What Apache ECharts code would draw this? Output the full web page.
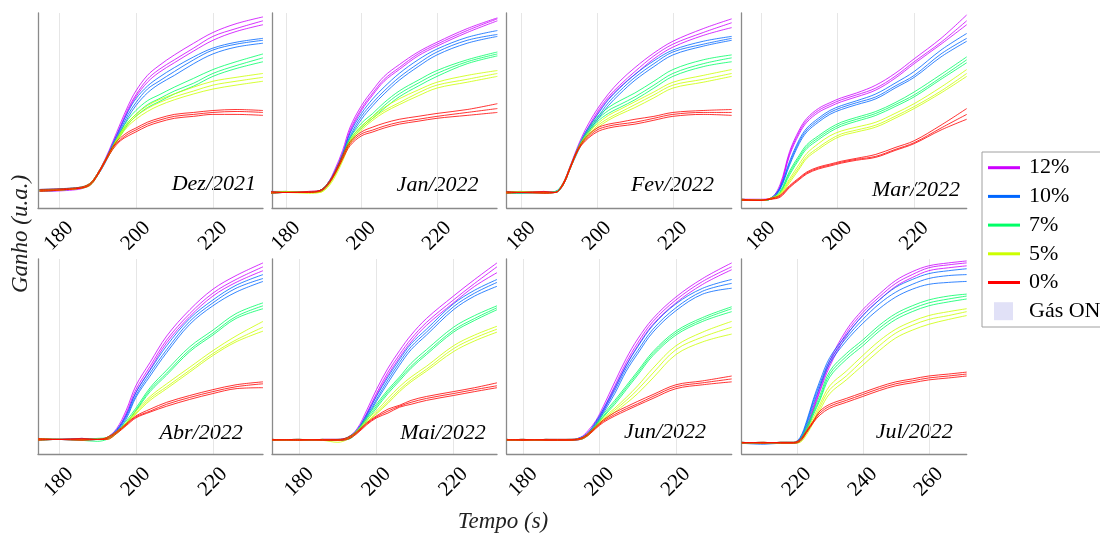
<!DOCTYPE html>
<html><head><meta charset="utf-8">
<script src="https://cdn.jsdelivr.net/npm/echarts/dist/echarts.min.js"></script>
<style>html,body{margin:0;padding:0;background:#fff}#c{width:1100px;height:535px}</style>
</head><body><div id="c"></div>
<script>
// ---------- DATA ----------
const concLabels = ['12%', '10%', '7%', '5%', '0%'];
const concColors = ['#cc00ff', '#0066ff', '#00ff66', '#ccff00', '#ff0000'];
const panelNames = ['Dez/2021', 'Jan/2022', 'Fev/2022', 'Mar/2022', 'Abr/2022', 'Mai/2022', 'Jun/2022', 'Jul/2022'];
const xRanges = [[174.6, 233], [176.3, 235.9], [176.2, 235.5], [175, 233.7], [174.6, 233], [172.9, 231.3], [175.7, 234.6], [203.3, 271.5]];
const tickStep = 20;

// Dez/2021
const dezX = [175,185,188,190,192,194,196,198,200,203,206,210,215,220,226,233];
const dez12 = [[9,10,12,17,24,33,42,51,58,66,71,76,82,88,92,96],
               [8.5,9.5,12,17.5,25,34,43.5,52.5,60,68,73,78.5,84.5,90,94.5,98],
               [9.5,10,12,16.5,23.5,32,41,50,57,64.5,69.5,74.5,80.5,86,90.5,94]];
const dez10 = [[9,10,12,17,24,32,40,48,54,61,65,70,76,81,84,86],
               [8.5,10,12.5,17.5,24.5,33,41.5,49.5,56,62.5,67,72,77.5,82,85,87],
               [9.5,10.5,12,16.5,23,31,39,46.5,52.5,59,63.5,68,74,79,82.5,84.5]];
const dez7  = [[9,10,12,17,24,31,38,44,48,53,56,60,64,69,73,77],
               [9,10.5,12.5,17.5,24.5,32,39,45.5,50,55,58,62,66.5,71,75,79],
               [9.5,10,11.5,16.5,23.5,30.5,37,43,47,51.5,54.5,58.5,62.5,67.5,71.5,75]];
const dez5  = [[9,10,12,17,24,31,38,43,47,51,54,57,60,63,65,67],
               [9,10,12.5,17.5,24.5,31.5,38.5,44,48,52.5,55.5,58.5,62,65,67,69],
               [8.5,10,11.5,16.5,23.5,30.5,37,42,45.5,49.5,52.5,55.5,58.5,61,63,65]];
const dez0  = [[9,10,12,17,24,31,35,38,40,43,45,47,48,49,49.5,49],
               [9.5,10.5,12.5,17.5,24.5,31.5,36,39,41,44,46,48,49,50,50.5,50],
               [8.5,10,11.5,16.5,23.5,30,34.5,37,39,42,44,46,47,48,48,47.5]];

// Jan/2022
const janX = [176,180,186,189,191,193,195,197,200,203,206,210,215,220,228,236];
const jan12 = [[8,8,8,9,12,19,28,40,51,59,66,72,79,84,91,97],
               [8.5,8,8.5,9,12.5,20,29.5,41.5,52.5,60.5,67.5,73.5,80,85,92,97.5],
               [7.5,8,8,8.5,11.5,18.5,27,39,50,58,65,71,78,83,90,96]];
const jan10 = [[8,8,8,9,12,18,27,37,47,54,60,67,74,80,86,89],
               [8.5,8.5,8,9,12.5,19,28,38.5,48.5,56,62,69,76,81.5,87.5,91],
               [7.5,8,8,8.5,11.5,17.5,26,36,45.5,52.5,58.5,65.5,72.5,78.5,84.5,88]];
const jan7  = [[8,8,8,9,12,18,26,35,42,47,52.5,58.5,64,69,75,79],
               [8,8.5,8,9,12.5,18.5,27,36,43.5,48.5,54,60,65.5,70.5,76,80],
               [7.5,8,8,8.5,11.5,17.5,25.5,34,41,46,51,57,62.5,67.5,74,78]];
const jan5  = [[8,8,8,8,11,17,25,34,41,46,50,54,59,63,66,69],
               [8,8.5,8,8.5,11.5,17.5,25.5,35,42,47,51.5,56,60.5,64.5,68,70.5],
               [7.5,8,7.5,8,10.5,16,24,33,40,45,49,53,57.5,61.5,64.5,67.5]];
const jan0  = [[8,8,8,9,12,18,26,33,38,40,42,44,45.5,47,49,51],
               [8.5,8,8.5,9,12.5,18.5,27,34,39,41.5,43.5,45.5,47,48.5,50.5,53.5],
               [7.5,8,8,8.5,11.5,17.5,25,32,37,39,41,43,44.5,46,47.5,49]];

// Fev/2022
const fevX = [176,180,186,189,191,193,195,197,200,203,206,210,215,220,228,235.5];
const fev12 = [[8,8,8,8,12,21,31,39,49,57,63,70,78,84,90,95],
               [8.5,8,8.5,8,12.5,22,32,40.5,50.5,58.5,65,72,79.5,85.5,92,97],
               [7.5,7.5,8,8,11.5,20.5,30,38,48,56,62,68.5,76.5,82.5,88.5,92.5]];
const fev10 = [[8,8,8,8,12,21,30,38,46,54,60,67,74,80,84,87],
               [8,8.5,8,8.5,12.5,21.5,31,39,47.5,55.5,61.5,68.5,75.5,81,85.5,88],
               [7.5,8,7.5,8,11.5,20.5,29,37,45,52.5,58.5,65.5,72.5,78.5,83,86]];
const fev7  = [[8,8,8,8,12,21,30,37,45,50,53,57,63,69,74,77],
               [8.5,8,8,8.5,12.5,21.5,31,38,46.5,51.5,55,59,65,71,76,78.5],
               [7.5,7.5,8,8,11.5,20.5,29.5,36,44,48.5,51.5,55.5,61.5,67.5,72.5,75]];
const fev5  = [[8,8,8,8,12,21,30,36,42,46,49,53,58,63,66,69],
               [8,8.5,8,8,12.5,21.5,30.5,37,43,47.5,50.5,54.5,59.5,64.5,68,71],
               [7.5,8,7.5,8,11.5,20.5,29.5,35.5,41,45,48,51.5,56.5,61.5,64.5,67.5]];
const fev0  = [[8,8,8,8,12,21,30,35,40,42,43,44,46,48,49,49],
               [8.5,8,8.5,8,12.5,21.5,30.5,36,41,43,44,45.5,47,49,50,50.5],
               [7.5,8,7.5,8,11.5,20.5,29.5,34.5,39,41,42,43,45,47,48,47.5]];

// Mar/2022
const marX = [175,180,182.5,185,187.5,190,192,195,198,201,205,210,215,220,227,233.7];
const mar12 = [[4,4,4.5,11,28,39,45,50,53,55.5,58,61.5,67.5,75,85,96],
               [4.5,4.5,5,12,29,40,46,51,54,56.5,59,63,69,76.5,87,99],
               [4,4,4.5,10.5,27,38,44,49,52,54.5,57,60.5,66.5,74,84,94]];
const mar10 = [[4,4,4.5,10,23,34,40,45,49,51.5,54,57,62.5,68,79,87],
               [4.5,4,5,10.5,24,35,41,46,50,52.5,55,58.5,64,70,81,89.5],
               [4,4,4.5,9.5,22,33,39,44,48,50.5,53,56,61.5,67,77.5,85.5]];
const mar7  = [[4,4,4.5,8,18,26,31.5,36,40,43,45.5,48.5,53,58,67,76],
               [4.5,4,5,8.5,19,27,32.5,37,41,44,46.5,49.5,54,59.5,68.5,77.5],
               [4,4,4.5,7.5,17,25,30.5,35,39,42,44.5,47.5,52,57,66,74.5]];
const mar5  = [[4,4,4.5,7,14,21,26.5,31,35,38,40,42.5,47,52,60,69],
               [4.5,4,5,7.5,15,22.5,28,33,37,39.5,41.5,44,48.5,53.5,62,71],
               [4,4,4.5,6.5,13,20,25.5,30,34,37,39,41.5,46,51,59,67.5]];
const mar0  = [[4,4,4.5,6,11,15,18,20.5,22,23.5,25,26.5,30,33.5,41,48],
               [4.5,4,5,6.5,11.5,15.5,18.5,21,22.5,24,25.5,27.5,31,34.5,42.5,51],
               [4,4,4.5,5.5,10.5,14.5,17.5,20,21.5,23,24.5,26,29.5,33,40,45.5]];

// Abr/2022
const abrX = [174.6,180,186,190,192.5,195,197.5,200,203.7,208,214,220,226,233];
const abr12 = [[7.5,7.5,7.5,7.5,8,12,21,33,45,58.5,72,82.5,89.5,96],
               [8,7.5,8,7.5,8.5,13,22.5,35,47,60.5,74,84.5,91.5,98],
               [7,7.5,7,7.5,8,11.5,20,31.5,43.5,57,70.5,81,88,94]];
const abr10 = [[7.5,7.5,7.5,7.5,8,12,19,30,41.5,53.5,68,77.5,85,90],
               [8,7.5,8,7.5,8.5,12.5,20,31.5,43,55.5,69.5,79,86.5,92],
               [7,7.5,7,7.5,8,11.5,18,29,40,52,66.5,76,83,88.5]];
const abr7  = [[7.5,7.5,7.5,7.5,8,11,16,22.5,33,41.5,53.5,62,70.5,76],
               [8,7.5,7.5,8,8.5,11.5,17,23.5,34,43,55,63.5,72,77.5],
               [7,7.5,7,6.5,7.5,10.5,15.5,22,32,40.5,52.5,61,69.5,74.5]];
const abr5  = [[7.5,7.5,7.5,7.5,8,11,15.5,21,28.5,34.5,43,51.5,58.5,65],
               [8,7.5,7.5,7.5,8.5,11.5,16,22,29.5,36,44.5,53,60.5,68],
               [7,7.5,7,7.5,7.5,10.5,15,20.5,27.5,33.5,42,50.5,57.5,63]];
const abr0  = [[7.5,7.5,7.5,7.5,8,11,15,19,22,25.5,29,32,34.5,36],
               [8,7.5,8,7.5,8.5,11.5,15.5,19.5,23,26.5,30,33,35.5,37],
               [7,7.5,7,7.5,7.5,10.5,14.5,18.5,21.5,24.5,28,31,33.5,34]];

// Mai/2022
const maiX = [172.9,180,186,190,192.5,195,197.5,200,203,206,209,213,220,225.5,231.3];
const mai12 = [[7.2,7.2,7.2,7.2,8,12,21,31,42,51,59,67.5,79,87.5,96],
               [7.5,7,7.5,7.5,8.5,13,22.5,33,44,53,61,69.5,81,89.5,98],
               [7,7.5,7,7,8,11.5,20,30,40.5,49.5,57.5,66,77.5,86,93]];
const mai10 = [[7.2,7.2,7.2,7.2,8,12,19.5,28,38,47,55,62.5,75.5,82.5,88],
               [7.5,7,7.5,7.5,8.5,12.5,20.5,29.5,39.5,48.5,56.5,64,77,84,89.5],
               [7,7.5,7,7,7.5,11.5,18.5,27,36.5,45.5,53.5,61,74,81,86]];
const mai7  = [[7.2,7.2,7.2,7.2,8,11.5,18,24.5,32,38.5,45,52,63.5,69.5,75],
               [7.5,7,7.5,7,8.5,12,19,25.5,33,39.5,46.5,53.5,65,71,76],
               [7,7.5,7,7.5,7.5,11,17,23.5,31,37.5,44,51,62.5,68.5,74]];
const mai5  = [[7.2,7.2,7.2,7.2,8,11.5,16.5,21,27,33,38,43.5,54,59.5,64],
               [7.5,7,7.5,7,8,12,17.5,22,28.5,34.5,39.5,45,55.5,61,65.5],
               [7,7.5,7,6,7.5,11,16,20.5,26,32,37,42.5,52.5,58,62.5]];
const mai0  = [[7.2,7.2,7.2,7.2,8,11,15.5,19,22,24.5,26.5,28.5,31,33,35],
               [7.5,7,7.5,7.5,8.5,11.5,16,19.5,23,25,27.5,29.5,32,34,36.5],
               [7,7.5,7,7,7.5,10.5,15,18.5,21,24,25.5,27.5,30,32,34]];

// Jun/2022
const junX = [175.7,180,186,192,195,197,199,201,204,207,210,214,220,227,234.6];
const jun12 = [[7.2,7.2,7.2,7.2,8,11,16,23,35,47,57,68,79,88.5,96],
               [7.5,7,7.5,7.5,8.5,12,17,24.5,37,49,59,69.5,80.5,90,98],
               [7,7.5,7,7,7.5,10.5,15,22,33.5,45.5,55.5,66.5,77.5,87,94.5]];
const jun10 = [[7.2,7.2,7.2,7.2,8,10.5,15.5,22,32.5,44,53,64,75,83.5,87.5],
               [7.5,7,7.5,7,8.5,11,16.5,23,34,45.5,55,66,77,85,89.5],
               [7,7.5,7,7.5,7.5,10,14.5,21,31,42.5,51.5,62.5,73.5,82,85]];
const jun7  = [[7.2,7.2,7.2,7.2,8,10,14.5,19.5,26.5,34,41.5,51.5,62,69,74.5],
               [7.5,7,7.5,7.5,8,10.5,15,20.5,27.5,35,42.5,52.5,63,70,75.5],
               [7,7.5,7,7,7.5,9.5,14,19,25.5,33,40.5,50.5,61,68,73]];
const jun5  = [[7.2,7.2,7.2,7.2,8,10,13.8,17.8,22.5,27.5,33,41.5,53.5,60,65],
               [7.5,7,7.5,7,8,10.5,14.3,18.5,23.5,29,35,44,55.5,62.5,68],
               [7,7.5,7,7.5,7.5,9.5,13.3,17.2,21.5,26,31,39,51,57.5,61.5]];
const jun0  = [[7.2,7.2,7.2,7.2,8,10,13.5,16.8,20.3,23.2,25.8,29.5,34.5,36.5,38.5],
               [7.5,7,7.5,7.5,8,10.5,14,17.5,21.3,24.2,27,30.5,35.5,37.5,40],
               [7,7.5,7,7,7.5,9.5,13,16.2,19.5,22.3,25,28.5,33.5,35.5,37]];

// Jul/2022
const julX = [203.3,210,215,219,221,223,225,227,230,235,240,245,250,255,260,266,271.5];
const jul12 = [[5.8,5.8,5.8,5.8,7,13,23,33,46.5,62,72.5,80.5,87.5,92,95.5,97,98],
               [6,5.5,6,6,7.5,14,24,34.5,48,63.5,74,82,89,93.5,96.5,98,99],
               [5.5,6,5.5,5.5,6.5,12,22,32,45,60.5,71,79,86,90.5,94,95.5,96.5]];
const jul10 = [[5.8,5.8,5.8,5.8,8,16,27,36,48,59.5,69,77,83,87,90,91.5,92],
               [6,5.5,6,6,8.5,17,28,37.5,49.5,61,71,79,85.5,89.5,92.5,94,95],
               [5.5,5,5.5,5.5,7.5,15,25.5,34.5,46.5,58,67,74.5,80.5,84.5,87,88,88.5]];
const jul7  = [[5.8,5.8,5.8,5.8,7,13,21,28.5,41,50,57,64.5,70.5,74.5,77.5,79.5,81],
               [6,5.5,6,6,7.5,14,22,30,42.5,51.5,58.5,66,72,76,79,81,82],
               [5.5,6,5.5,5.5,6.5,12,20,27.5,39.5,48.5,55.5,63,69,73,76,78,79.5]];
const jul5  = [[5.8,5.8,5.8,5.8,6.5,11,17,24,33,40,48,55.5,62,66,69,71,73],
               [6,5.5,6,6,7,12,18.5,25.5,35,42.5,50.5,58,64,68,71,73,74.5],
               [5.5,6,5.5,5.5,6,10,16,22.5,31,38,45.5,53,59.5,63.5,66.5,69,71]];
const jul0  = [[5.8,5.8,5.8,5.8,7,11.5,16.5,21,24.5,27.5,30.5,33.5,36,37.5,39,40,41],
               [6,5.5,6,6,7.5,12,17,22,25.5,28.5,31.5,34.5,37,38.5,40,41,42],
               [5.5,6,5.5,5.5,6.5,11,16,20,23.5,26.5,29.5,32.5,35,36.5,38,39,40]];

const panelX = [dezX, janX, fevX, marX, abrX, maiX, junX, julX];
const panelCurves = [
  [dez12, dez10, dez7, dez5, dez0],
  [jan12, jan10, jan7, jan5, jan0],
  [fev12, fev10, fev7, fev5, fev0],
  [mar12, mar10, mar7, mar5, mar0],
  [abr12, abr10, abr7, abr5, abr0],
  [mai12, mai10, mai7, mai5, mai0],
  [jun12, jun10, jun7, jun5, jun0],
  [jul12, jul10, jul7, jul5, jul0]
];

// ---------- LAYOUT ----------
const FONT = "'Liberation Serif', 'DejaVu Serif', serif";
const gridLefts = [38, 272, 506.7, 741.7];
const gridTops = [13, 259];
const GW = 225, GH = 195;
const labelPos = [[256, 184], [478.5, 185], [714, 185], [960, 190], [242.7, 433.5], [485.7, 433.5], [706, 432.5], [952.7, 432.5]];
const lineIcon = 'path://M0,0M32,18M0,7.5h32v3h-32z';

const grids = [], xAxes = [], yAxes = [], series = [], graphics = [];
for (let i = 0; i < 8; i++) {
  const col = i % 4, row = Math.floor(i / 4);
  grids.push({left: gridLefts[col], top: gridTops[row], width: GW, height: GH});
  xAxes.push({
    type: 'value', gridIndex: i, min: xRanges[i][0], max: xRanges[i][1],
    minInterval: tickStep, maxInterval: tickStep,
    axisLine: {show: true, onZero: false, lineStyle: {color: '#8a8a8a', width: 1.3}},
    axisTick: {show: false},
    splitLine: {show: true, showMinLine: false, showMaxLine: false, lineStyle: {color: '#e6e6e6', width: 1}},
    axisLabel: {
      rotate: 45, align: 'center', verticalAlign: 'middle', margin: 28,
      fontFamily: FONT, fontSize: 21, color: '#000',
      showMinLabel: true, showMaxLabel: true,
      formatter: v => (Math.abs(v / tickStep - Math.round(v / tickStep)) < 1e-6 ? String(Math.round(v)) : '')
    }
  });
  yAxes.push({
    type: 'value', gridIndex: i, min: 0, max: 100,
    axisLine: {show: true, lineStyle: {color: '#8a8a8a', width: 1.3}},
    axisTick: {show: false}, axisLabel: {show: false}, splitLine: {show: false}
  });
  panelCurves[i].forEach((reps, c) => {
    reps.forEach(r => {
      series.push({
        type: 'line', name: concLabels[c], xAxisIndex: i, yAxisIndex: i,
        data: panelX[i].map((t, k) => [t, r[k]]),
        symbol: 'none', showSymbol: false, smooth: 0.35, silent: true,
        itemStyle: {color: concColors[c]},
        lineStyle: {color: concColors[c], width: 1, opacity: 0.8}
      });
    });
  });
  graphics.push({
    type: 'text', x: labelPos[i][0], y: labelPos[i][1],
    style: {text: panelNames[i], fill: '#000', font: 'italic 22px ' + FONT, textAlign: 'right', textVerticalAlign: 'middle'}
  });
}
series.push({type: 'bar', name: 'Gás ON', xAxisIndex: 0, yAxisIndex: 0, data: [], itemStyle: {color: '#e1e1f7'}});

graphics.push({
  type: 'text', x: 503, y: 522,
  style: {text: 'Tempo (s)', fill: '#222', font: 'italic 23px ' + FONT, textAlign: 'center', textVerticalAlign: 'middle'}
});
graphics.push({
  type: 'text', x: 21, y: 234, rotation: Math.PI / 2,
  style: {text: 'Ganho (u.a.)', fill: '#222', font: 'italic 23px ' + FONT, textAlign: 'center', textVerticalAlign: 'middle'}
});

const chart = echarts.init(document.getElementById('c'), null, {renderer: 'canvas'});
chart.setOption({
  animation: false,
  backgroundColor: '#fff',
  grid: grids, xAxis: xAxes, yAxis: yAxes, series: series,
  graphic: graphics,
  legend: {
    orient: 'vertical', left: 982, top: 152,
    data: concLabels.map(n => ({name: n, icon: lineIcon})).concat([{name: 'Gás ON', icon: 'path://M0,0M32,18M6,0h19v18h-19z'}]),
    itemWidth: 32, itemHeight: 18, itemGap: 6.7,
    padding: [4.7, 10, 4.8, 6],
    borderColor: '#a0a0a0', borderWidth: 1, backgroundColor: '#fff',
    textStyle: {fontFamily: FONT, fontSize: 22, color: '#000', lineHeight: 20, padding: [0, 0, 0, 4]},
    itemStyle: {opacity: 1},
    selectedMode: false
  }
});
</script></body></html>
